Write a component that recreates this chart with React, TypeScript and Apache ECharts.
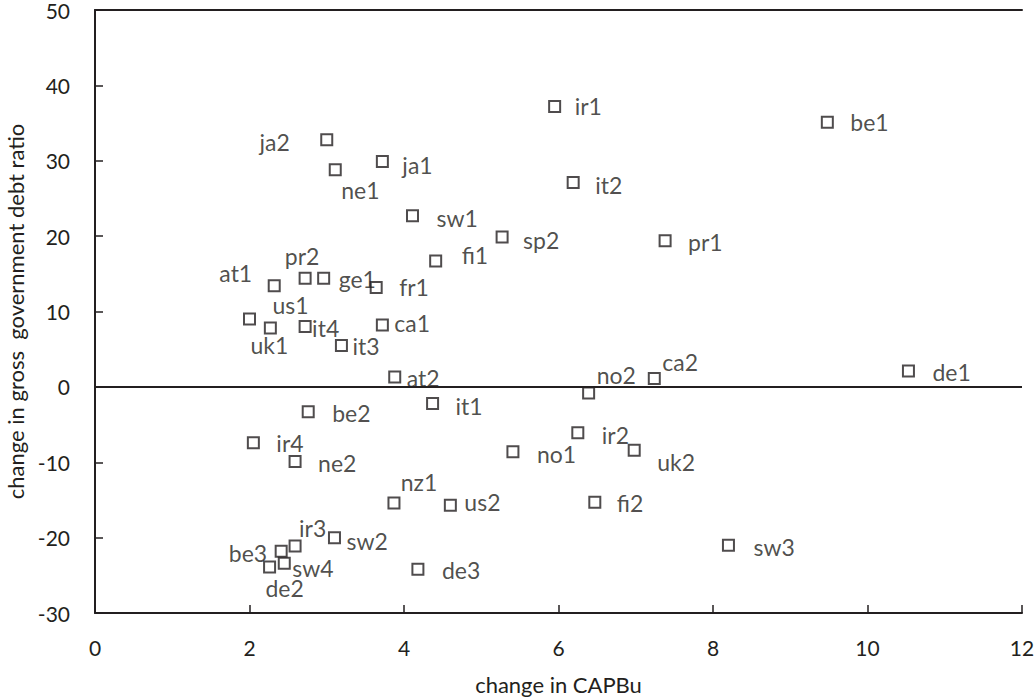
import React, { useEffect, useRef } from "react";
import * as echarts from "echarts";

const names = ["ir1","be1","ja2","ja1","ne1","it2","sw1","sp2","fi1","pr1","at1","pr2","ge1","fr1","us1","uk1","it4","it3","ca1","at2","ca2","no2","de1","be2","it1","ir4","ne2","nz1","us2","no1","ir2","uk2","fi2","ir3","be3","sw2","de2","sw4","de3","sw3"];
const capbu = [5.95,9.48,3.0,3.72,3.11,6.19,4.11,5.27,4.41,7.38,2.32,2.72,2.96,3.64,2.0,2.27,2.72,3.19,3.72,3.88,7.24,6.39,10.53,2.76,4.37,2.05,2.59,3.87,4.6,5.41,6.25,6.98,6.47,2.59,2.41,3.1,2.26,2.45,4.18,8.2];
const debt = [37.2,35.1,32.8,29.9,28.8,27.1,22.7,19.9,16.7,19.4,13.4,14.4,14.4,13.2,9.0,7.8,8.0,5.5,8.2,1.3,1.1,-0.8,2.1,-3.3,-2.2,-7.4,-9.9,-15.4,-15.7,-8.6,-6.1,-8.4,-15.3,-21.1,-21.8,-20.0,-23.9,-23.4,-24.2,-21.0];

const xTicks = { min: 0, max: 12, interval: 2 };
const yTicks = { min: -30, max: 50, interval: 10 };

// label placement (style only): [align, dx, dy]
const labelPlace: Record<string, [string, number, number]> = {
  ir1: ["left", 20, 0], be1: ["left", 23, 0], ja2: ["right", -37, 2], ja1: ["left", 20, 3],
  ne1: ["left", 6, 20], it2: ["left", 22, 2], sw1: ["left", 24, 2], sp2: ["left", 21, 3],
  fi1: ["left", 26, -6], pr1: ["left", 23, 1], at1: ["right", -22, -13], pr2: ["center", -3, -22],
  ge1: ["left", 15, 1], fr1: ["left", 23, 0], us1: ["center", 41, -14], uk1: ["center", -1, 17],
  it4: ["left", 7, 1], it3: ["left", 11, 1], ca1: ["left", 12, -2], at2: ["left", 12, 1],
  ca2: ["left", 8, -17], no2: ["left", 8, -18], de1: ["left", 24, 1], be2: ["left", 24, 1],
  it1: ["left", 23, 3], ir4: ["left", 23, 0], ne2: ["left", 23, 2], nz1: ["center", 25, -21],
  us2: ["left", 14, -3], no1: ["left", 24, 2], ir2: ["left", 24, 2], uk2: ["left", 23, 12],
  fi2: ["left", 22, 1], ir3: ["left", 4, -18], be3: ["right", -14, 2], sw2: ["left", 12, 3],
  de2: ["center", 15, 21], sw4: ["left", 8, 5], de3: ["left", 24, 1], sw3: ["left", 25, 2],
};

const INK = "#231f20";
const FONT = "Lato";
const FS = 23;
const TICK_FS = 21;

export default function App() {
  const ref = useRef<HTMLDivElement>(null);
  useEffect(() => {
    document.body.style.margin = "0";
    const chart = echarts.init(ref.current!, undefined, { renderer: "svg" });
    const data = names.map((n, i) => {
      const p = labelPlace[n] || ["left", 20, 0];
      return {
        name: n,
        value: [capbu[i], debt[i]],
        label: { show: true, position: "inside", align: p[0], verticalAlign: "middle", offset: [p[1], p[2]] },
      };
    });
    chart.setOption({
      animation: false,
      backgroundColor: "#ffffff",
      grid: { left: 95, right: 14, top: 10, bottom: 87, containLabel: false, outerBoundsMode: "none" },
      xAxis: [
        {
          type: "value", ...xTicks, position: "bottom",
          name: "change in CAPBu", nameLocation: "middle", nameGap: 60,
          nameTextStyle: { color: INK, fontFamily: FONT, fontSize: 22 },
          axisLine: { show: true, onZero: false, lineStyle: { color: INK, width: 2 } },
          axisTick: { show: true, inside: true, length: 8, lineStyle: { color: INK, width: 1.5 } },
          axisLabel: { color: INK, fontFamily: FONT, fontSize: TICK_FS, margin: 24 },
          splitLine: { show: false },
        },
        {
          type: "value", ...xTicks, position: "top",
          axisLine: { show: true, onZero: false, lineStyle: { color: INK, width: 2 } },
          axisTick: { show: false }, axisLabel: { show: false }, splitLine: { show: false },
        },
      ],
      yAxis: {
        type: "value", ...yTicks,
        name: "change in gross  government debt ratio", nameLocation: "middle", nameGap: 68,
        nameTextStyle: { color: INK, fontFamily: FONT, fontSize: 22 },
        axisLine: { show: true, onZero: false, lineStyle: { color: INK, width: 2 } },
        axisTick: { show: true, inside: true, length: 8, lineStyle: { color: INK, width: 1.5 } },
        axisLabel: { color: INK, fontFamily: FONT, fontSize: TICK_FS, margin: 25, verticalAlign: "middle", lineHeight: 18 },
        splitLine: { show: false },
      },
      series: [
        {
          type: "scatter",
          xAxisIndex: 0,
          symbol: "rect",
          symbolSize: 11,
          itemStyle: { color: "#ffffff", borderColor: INK, borderWidth: 2 },
          label: { color: INK, fontFamily: FONT, fontSize: FS, formatter: "{b}" },
          data,
          markLine: {
            silent: true,
            symbol: "none",
            label: { show: false },
            lineStyle: { color: INK, width: 2, type: "solid" },
            data: [{ yAxis: 0 }],
          },
          z: 3,
        },
      ],
    });
    return () => chart.dispose();
  }, []);
  return <div ref={ref} style={{ width: 1036, height: 700 }} />;
}
